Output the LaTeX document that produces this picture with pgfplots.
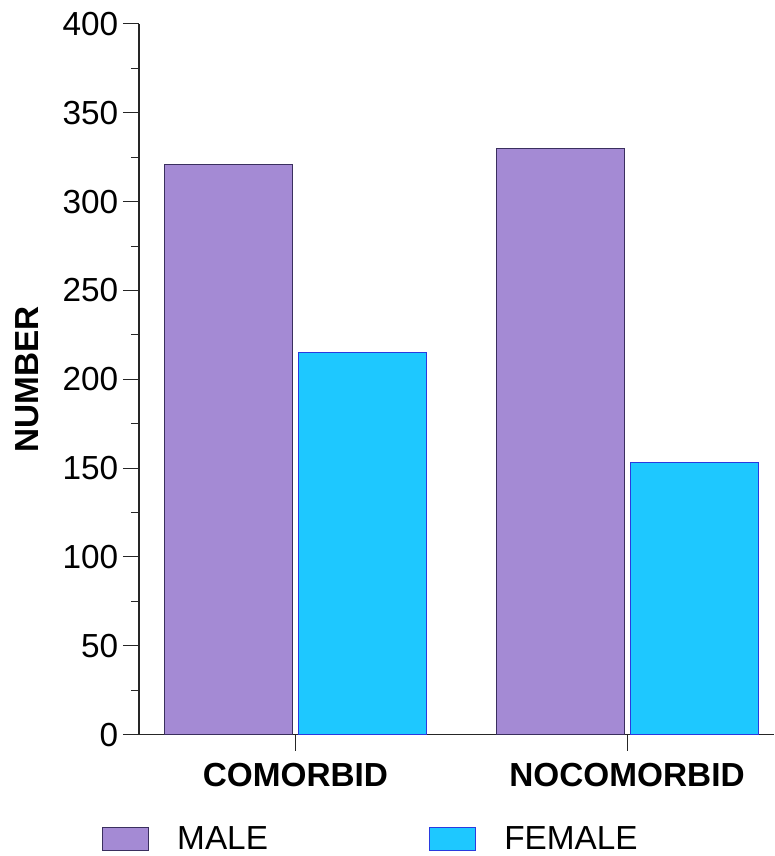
\documentclass[border=0pt]{standalone}
\usepackage{fontspec}
\setmainfont{Liberation Sans}
\usepackage{pgfplots}
\pgfplotsset{compat=1.18}
\definecolor{malefill}{HTML}{A48AD4}
\definecolor{maledraw}{HTML}{3A2F5E}
\definecolor{femalefill}{HTML}{1EC8FF}
\definecolor{femaledraw}{HTML}{2A3ADF}
\newcommand{\bigfont}{\fontsize{25}{30}\selectfont}
\begin{document}
\begin{tikzpicture}
\begin{axis}[
	scale only axis,
	width=476.25pt,
	height=532.9pt,
	ybar,
	bar width=96pt,
	xmin=-0.472, xmax=1.4434,
	ymin=0, ymax=400,
	axis lines=left,
	axis line style={-, line width=0.9pt, black!85},
	xtick={0,1},
	xticklabels={COMORBID,NOCOMORBID},
	ytick={0,50,...,400},
	minor y tick num=1,
	tick align=outside,
	major tick length=12pt,
	minor tick length=6pt,
	tick style={line width=0.75pt, black!85},
	/pgf/number format/assume math mode=true,
	tick label style={font=\bigfont},
	xticklabel style={font=\bigfont\bfseries, yshift=-6pt},
	ylabel={NUMBER},
	ylabel style={font=\bigfont\bfseries, at={(axis description cs:-0.1764,0.5)}, anchor=center},
	legend columns=2,
	legend style={at={(axis description cs:-0.0583,-0.1464)}, anchor=west,
		draw=none, inner sep=0pt, font=\bigfont,
		column sep=19pt,
		/tikz/every even column/.append style={column sep=119pt}},
	legend image code/.code={\draw[#1,/tikz/.cd,bar shift=0pt] (0pt,-8.6pt) rectangle (34.5pt,8.6pt);},
]
\addplot[fill=malefill, draw=maledraw, line width=0.75pt, bar shift=-50.25pt]
	coordinates {(0,321) (1,330)};
\addplot[fill=femalefill, draw=femaledraw, line width=0.75pt, bar shift=50.25pt]
	coordinates {(0,215) (1,153)};
\legend{MALE,FEMALE}
\end{axis}
\pgfresetboundingbox
\useasboundingbox (-104.25pt,-91.1pt) rectangle (476.25pt,550.9pt);
\end{tikzpicture}
\end{document}
